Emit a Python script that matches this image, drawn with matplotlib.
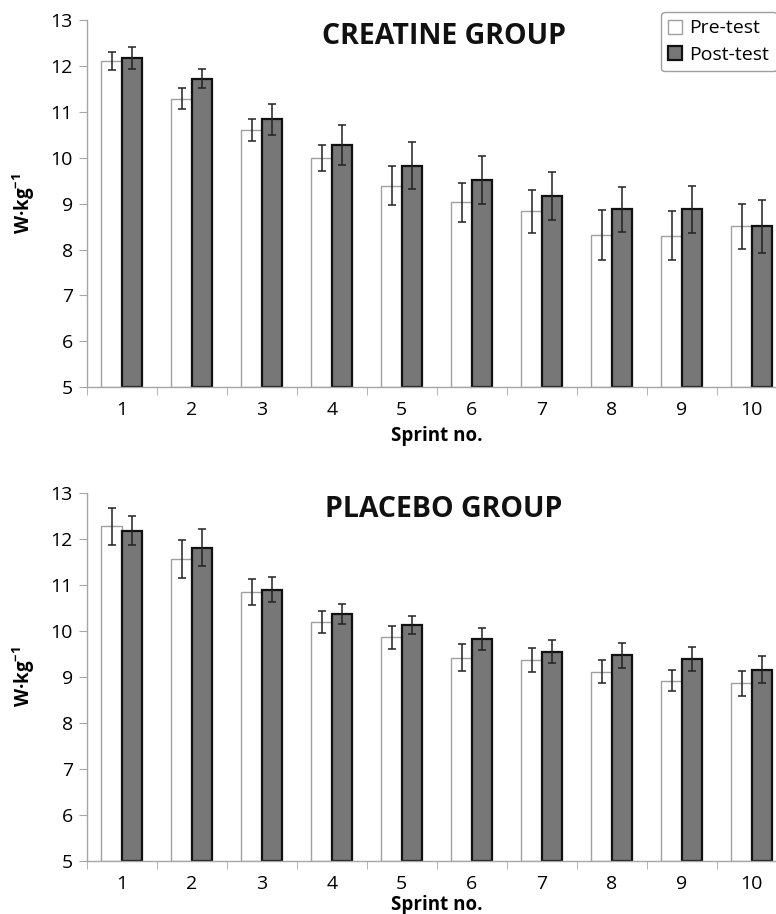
import numpy as np
import matplotlib.pyplot as plt

plt.rcParams['font.family'] = ['Open Sans', 'DejaVu Sans']
plt.rcParams['mathtext.fontset'] = 'custom'
plt.rcParams['mathtext.rm'] = 'Open Sans'
plt.rcParams['mathtext.bf'] = 'Open Sans:bold'

sprints = [1, 2, 3, 4, 5, 6, 7, 8, 9, 10]

# Creatine group (W/kg), mean and error
cr_pre = [12.11, 11.29, 10.60, 10.00, 9.39, 9.03, 8.83, 8.32, 8.30, 8.51]
cr_pre_err = [0.20, 0.22, 0.24, 0.28, 0.42, 0.42, 0.47, 0.55, 0.53, 0.49]
cr_post = [12.17, 11.72, 10.84, 10.28, 9.83, 9.51, 9.16, 8.88, 8.88, 8.51]
cr_post_err = [0.24, 0.21, 0.34, 0.43, 0.51, 0.52, 0.52, 0.49, 0.51, 0.58]

# Placebo group
pl_pre = [12.28, 11.57, 10.85, 10.19, 9.87, 9.42, 9.38, 9.12, 8.92, 8.86]
pl_pre_err = [0.41, 0.41, 0.28, 0.24, 0.25, 0.29, 0.26, 0.26, 0.23, 0.27]
pl_post = [12.19, 11.82, 10.90, 10.38, 10.14, 9.83, 9.55, 9.47, 9.39, 9.16]
pl_post_err = [0.32, 0.40, 0.27, 0.22, 0.20, 0.24, 0.25, 0.27, 0.26, 0.29]

fig = plt.figure(figsize=(7.76, 9.14), dpi=100)
W, H = 776, 914
ax_top = fig.add_axes([86.7 / W, 1 - 387.3 / H, 700 / W, 367.3 / H])
ax_bot = fig.add_axes([86.7 / W, 1 - 860.7 / H, 700 / W, 367.3 / H])

bw = 0.29
x = np.arange(len(sprints))
spine_col = '#a6a6a6'
err_kw = dict(ecolor='#222222', elinewidth=1.1, capsize=3, capthick=1.1)


def draw(ax, pre, pre_err, post, post_err, title, xpad):
    b1 = ax.bar(x - bw / 2, np.array(pre) - 5, bw, bottom=5, color='white',
                edgecolor='#a0a0a0', linewidth=1.0, label='Pre-test')
    ax.errorbar(x - bw / 2, pre, yerr=pre_err, fmt='none', **err_kw)
    b2 = ax.bar(x + bw / 2, np.array(post) - 5, bw, bottom=5, color='#777777',
                edgecolor='#111111', linewidth=1.6, label='Post-test')
    ax.errorbar(x + bw / 2, post, yerr=post_err, fmt='none', **err_kw)

    ax.set_ylim(5, 13)
    ax.set_xlim(-0.5, len(sprints) - 0.5)
    ax.set_yticks(range(5, 14))
    ax.set_xticks(x)
    ax.set_xticklabels([str(s) for s in sprints])
    ax.set_xticks(np.arange(len(sprints) + 1) - 0.5, minor=True)
    ax.tick_params(axis='x', which='major', length=0, labelsize=14, pad=10)
    ax.tick_params(axis='x', which='minor', length=6, color=spine_col)
    ax.tick_params(axis='y', length=6, color=spine_col, labelsize=14, pad=4)
    for s in ['top', 'right']:
        ax.spines[s].set_visible(False)
    for s in ['left', 'bottom']:
        ax.spines[s].set_color(spine_col)
        ax.spines[s].set_linewidth(1.0)
    ax.set_xlabel('Sprint no.', fontsize=13.5, fontweight='bold', labelpad=xpad)
    ax.set_ylabel(r'W·kg$^{\mathbf{-1}}$', fontsize=13.5, fontweight='bold', labelpad=10)
    ax.text(0.51, 0.995, title, transform=ax.transAxes, ha='center', va='top',
            fontsize=20.5, fontweight='bold', color='#111111')
    return b1, b2


h1, h2 = draw(ax_top, cr_pre, cr_pre_err, cr_post, cr_post_err, 'CREATINE GROUP', 5)
draw(ax_bot, pl_pre, pl_pre_err, pl_post, pl_post_err, 'PLACEBO GROUP', 2)

fig.legend([h1, h2], ['Pre-test', 'Post-test'], loc='upper left',
           bbox_to_anchor=(660.7 / W, 1 - 11.7 / H), fontsize=14, frameon=True,
           fancybox=True, edgecolor='#888888', handlelength=0.72, handleheight=0.72,
           handletextpad=0.35, borderpad=0.4, labelspacing=0.42, borderaxespad=0)

fig.savefig('out.png', dpi=100)
